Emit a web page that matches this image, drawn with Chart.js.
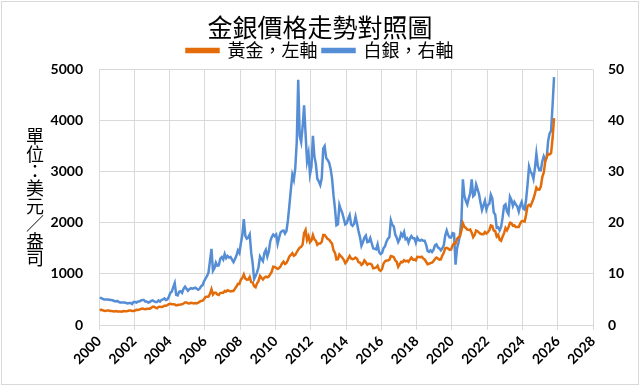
<!DOCTYPE html>
<html>
<head>
<meta charset="utf-8">
<script src="https://cdn.jsdelivr.net/npm/chart.js@4.4.1/dist/chart.umd.min.js"></script>
<style>
  html, body { margin: 0; padding: 0; background: #fff; }
  #wrap { width: 640px; height: 386px; position: relative; }
</style>
</head>
<body>
<div id="wrap"><canvas id="chart"></canvas></div>
<script>
"use strict";

// monthly values, first month = Jan 2000
var startYear = 2000;
var goldPrices = [
    284, 300, 287, 280, 275, 285, 282, 274, 273, 270, 266, 272,
    266, 262, 263, 261, 272, 270, 268, 273, 283, 283, 276, 276,
    282, 296, 294, 302, 314, 321, 314, 310, 319, 317, 319, 333,
    357, 359, 341, 328, 355, 356, 351, 360, 379, 379, 389, 407,
    414, 405, 406, 404, 384, 392, 398, 400, 405, 420, 439, 442,
    424, 423, 434, 429, 422, 430, 424, 437, 456, 470, 476, 510,
    549, 555, 557, 610, 700, 596, 633, 632, 598, 586, 628, 629,
    631, 665, 655, 679, 667, 655, 665, 665, 712, 754, 806, 803,
    889, 922, 990, 909, 888, 889, 939, 839, 829, 760, 740, 816,
    858, 960, 924, 890, 928, 946, 934, 949, 996, 1043, 1140, 1135,
    1118, 1095, 1113, 1148, 1205, 1240, 1193, 1215, 1271, 1343, 1370, 1405,
    1356, 1372, 1424, 1474, 1512, 1529, 1572, 1800, 1860, 1665, 1739, 1620,
    1656, 1760, 1675, 1649, 1570, 1596, 1594, 1626, 1760, 1760, 1722, 1685,
    1671, 1628, 1593, 1460, 1414, 1280, 1286, 1380, 1349, 1316, 1275, 1210,
    1244, 1300, 1350, 1299, 1287, 1300, 1320, 1296, 1230, 1222, 1176, 1201,
    1265, 1227, 1179, 1198, 1199, 1181, 1110, 1117, 1125, 1159, 1080, 1060,
    1097, 1200, 1245, 1260, 1260, 1276, 1350, 1341, 1326, 1267, 1236, 1140,
    1192, 1234, 1231, 1266, 1246, 1260, 1236, 1283, 1320, 1280, 1283, 1265,
    1335, 1331, 1325, 1335, 1303, 1282, 1238, 1190, 1198, 1215, 1221, 1250,
    1291, 1320, 1300, 1280, 1284, 1359, 1413, 1500, 1510, 1495, 1471, 1480,
    1560, 1597, 1592, 1683, 1716, 1732, 1846, 1990, 1922, 1900, 1866, 1858,
    1867, 1808, 1718, 1760, 1850, 1834, 1807, 1785, 1775, 1777, 1821, 1790,
    1817, 1856, 1948, 1937, 1849, 1837, 1733, 1765, 1670, 1650, 1726, 1798,
    1898, 1855, 1912, 1999, 1992, 1942, 1951, 1918, 1916, 1916, 1985, 2033,
    2034, 2023, 2159, 2331, 2352, 2326, 2398, 2470, 2571, 2690, 2651, 2648,
    2709, 2895, 2983, 3195, 3280, 3350, 3340, 3365, 3650, 4050
];
var silverPrices = [
    5.3, 5.3, 5.1, 5.0, 5.0, 5.0, 5.0, 4.9, 4.9, 4.8, 4.7, 4.6,
    4.7, 4.5, 4.4, 4.4, 4.4, 4.4, 4.3, 4.2, 4.3, 4.3, 4.1, 4.5,
    4.5, 4.4, 4.6, 4.6, 4.8, 4.9, 4.9, 4.6, 4.6, 4.4, 4.5, 4.7,
    4.8, 4.6, 4.5, 4.5, 4.8, 4.6, 4.9, 5.0, 5.2, 4.9, 5.0, 5.5,
    6.3, 6.5, 7.4, 8.2, 5.9, 5.8, 6.5, 6.6, 6.3, 7.1, 7.5, 7.1,
    6.7, 7.0, 7.2, 7.1, 7.2, 7.3, 7.1, 6.9, 7.1, 7.6, 7.8, 8.6,
    9.1, 9.6, 10.3, 12.6, 14.9, 10.6, 11.1, 12.2, 11.6, 11.7, 13.0, 13.3,
    12.8, 13.9, 13.1, 13.5, 13.2, 13.3, 12.8, 12.3, 12.9, 13.6, 14.6, 14.1,
    16.0, 17.6, 20.7, 17.5, 16.9, 17.1, 17.7, 14.2, 12.1, 9.0, 9.6, 10.3,
    11.3, 13.4, 12.9, 12.5, 14.1, 14.7, 13.4, 14.4, 16.4, 17.2, 17.7, 17.4,
    17.7, 15.9, 17.1, 18.1, 18.4, 18.5, 17.9, 18.4, 20.5, 23.4, 26.5, 29.4,
    28.4, 30.7, 35.8, 48.0, 37.0, 35.8, 38.8, 43.0, 37.4, 32.1, 33.6, 29.5,
    31.0, 37.0, 33.0, 31.5, 28.6, 28.1, 27.4, 28.7, 34.5, 35.0, 32.7, 32.3,
    31.8, 30.6, 28.7, 25.4, 22.8, 19.5, 19.7, 23.5, 22.6, 21.9, 20.8, 19.7,
    19.9, 20.8, 21.5, 19.7, 19.4, 19.8, 21.2, 19.8, 18.4, 17.2, 15.5, 16.2,
    17.1, 17.5, 16.2, 16.3, 17.0, 16.0, 15.0, 14.9, 14.8, 15.8, 14.3, 13.9,
    14.1, 15.0, 15.4, 16.3, 16.9, 17.2, 20.5, 19.6, 19.3, 17.7, 17.1, 16.2,
    16.8, 17.9, 17.4, 18.2, 16.8, 17.0, 16.1, 16.9, 17.4, 17.0, 17.0, 16.1,
    17.1, 16.6, 16.5, 16.7, 16.5, 16.5, 15.7, 14.5, 14.3, 14.6, 14.3, 14.7,
    15.6, 15.8, 15.2, 15.0, 14.6, 15.0, 15.6, 17.5, 18.5, 17.6, 17.1, 17.1,
    18.0, 17.9, 11.8, 15.0, 16.1, 17.7, 20.5, 28.5, 25.3, 24.3, 23.6, 24.8,
    25.8, 28.5, 25.2, 25.5, 27.5, 26.6, 25.6, 23.9, 22.5, 23.4, 24.3, 22.6,
    23.5, 23.7, 25.5, 24.8, 22.0, 21.6, 19.0, 19.1, 18.5, 19.2, 21.0, 23.3,
    23.6, 22.2, 21.7, 25.1, 24.5, 23.3, 24.1, 23.6, 23.2, 22.2, 23.4, 24.1,
    22.8, 22.6, 24.5, 27.5, 31.0, 30.0, 29.6, 28.6, 30.7, 33.5, 31.1, 30.3,
    30.3, 32.0, 33.0, 32.3, 32.8, 36.0, 37.5, 38.0, 43.0, 48.5
];
var yearTicks = [2000, 2002, 2004, 2006, 2008, 2010, 2012, 2014, 2016, 2018, 2020, 2022, 2024, 2026, 2028];
var leftTicks = [0, 1000, 2000, 3000, 4000, 5000];
var rightTicks = [0, 10, 20, 30, 40, 50];
var chartTitle = '金銀價格走勢對照圖';
var goldLabel = '黃金，左軸';
var silverLabel = '白銀，右軸';
var yTitle = '單位：美元／盎司';

var goldColor = '#e36c09';
var silverColor = '#558ed5';
var gridColor = '#d9d9d9';
var tickFont = { family: 'Lato, "Open Sans", sans-serif', size: 14, weight: 'bold' };
var cjk = '"Noto Sans CJK TC", "Noto Sans CJK SC", sans-serif';

function toPoints(arr) {
    return arr.map(function(v, i) {
        return { x: startYear + (i + 0.5) / 12, y: v };
    });
}

function useTicks(list) {
    return function(scale) {
        scale.ticks = list.map(function(v) { return { value: v }; });
    };
}

function plain(v) {
    return String(v);
}

var frame = {
    id: 'frame',
    beforeDraw: function(chart) {
        var c = chart.ctx;
        c.save();
        c.fillStyle = '#fff';
        c.fillRect(0, 0, chart.width, chart.height);
        c.strokeStyle = gridColor;
        c.lineWidth = 1;
        c.strokeRect(1.5, 1.5, chart.width - 3, chart.height - 3);
        c.restore();
    },
    afterDraw: function(chart) {
        // vertical axis title, characters kept upright
        var c = chart.ctx;
        var a = chart.chartArea;
        var chars = Array.from(yTitle);
        var step = 17.4;
        var y0 = (a.top + a.bottom) / 2 - step * (chars.length - 1) / 2;
        c.save();
        c.font = '18px ' + cjk;
        c.fillStyle = '#000';
        c.textAlign = 'center';
        c.textBaseline = 'middle';
        for (var i = 0; i < chars.length; i++) {
            c.fillText(chars[i], 35, y0 + i * step);
        }
        c.restore();
    }
};

var ctx = document.getElementById('chart').getContext('2d');
window.myChart = new Chart(ctx, {
    type: 'line',
    data: {
        datasets: [{
            label: goldLabel,
            data: toPoints(goldPrices),
            yAxisID: 'y',
            borderColor: goldColor,
            backgroundColor: goldColor,
            borderWidth: 2.5,
            pointRadius: 0
        }, {
            label: silverLabel,
            data: toPoints(silverPrices),
            yAxisID: 'y2',
            borderColor: silverColor,
            backgroundColor: silverColor,
            borderWidth: 2.5,
            pointRadius: 0
        }]
    },
    options: {
        responsive: true,
        maintainAspectRatio: false,
        animation: false,
        layout: { padding: { top: 6, left: 4, right: 4, bottom: 4 } },
        plugins: {
            title: {
                display: true,
                text: chartTitle,
                color: '#000',
                font: { family: cjk, size: 25, weight: 'normal', lineHeight: 0.26 },
                padding: { top: 18, bottom: 6 }
            },
            legend: {
                display: true,
                labels: {
                    color: '#000',
                    font: { family: cjk, size: 18 },
                    boxWidth: 32,
                    boxHeight: 3,
                    padding: 5
                }
            },
            tooltip: { enabled: false }
        },
        scales: {
            x: {
                type: 'linear',
                min: 2000,
                max: 2028,
                afterBuildTicks: useTicks(yearTicks),
                afterFit: function(scale) { scale.height = 386 - 325 - 4; },
                grid: { color: gridColor, tickLength: 5 },
                border: { color: gridColor },
                ticks: {
                    color: '#000',
                    font: tickFont,
                    minRotation: 45,
                    maxRotation: 45,
                    padding: 3,
                    callback: plain
                }
            },
            y: {
                position: 'left',
                min: 0,
                max: 5000,
                afterBuildTicks: useTicks(leftTicks),
                afterFit: function(scale) { scale.width = 99 - 4; },
                grid: { color: gridColor, drawTicks: false },
                border: { display: false },
                ticks: { color: '#000', font: tickFont, padding: 16, callback: plain }
            },
            y2: {
                position: 'right',
                min: 0,
                max: 50,
                afterBuildTicks: useTicks(rightTicks),
                afterFit: function(scale) { scale.width = 640 - 593 - 4; },
                grid: { drawOnChartArea: false, drawTicks: false },
                border: { display: false },
                ticks: { color: '#000', font: tickFont, padding: 15, callback: plain }
            }
        }
    },
    plugins: [frame]
});
</script>
</body>
</html>
